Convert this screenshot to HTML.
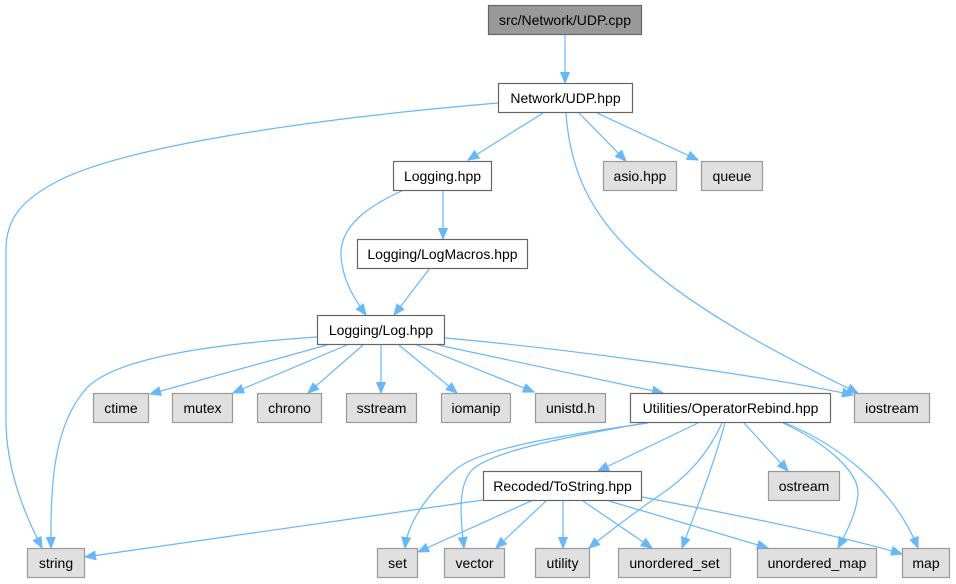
<!DOCTYPE html>
<html><head><meta charset="utf-8"><style>
html,body{margin:0;padding:0;background:#fff;}
svg{display:block;}
text{font-family:"Liberation Sans",Arial,sans-serif;font-size:14px;fill:#000;text-anchor:middle;}
.e{fill:none;stroke:#63b8ff;stroke-width:1.2;}
.w{fill:#fff;stroke:#666;stroke-width:1.2;}
.g{fill:#e0e0e0;stroke:#999;stroke-width:1.2;}
.r{fill:#999;stroke:#666;stroke-width:1.2;}
</style></head><body>
<svg width="956" height="584" viewBox="0 0 956 584" xmlns="http://www.w3.org/2000/svg">
<defs>
<marker id="a" markerUnits="userSpaceOnUse" markerWidth="12" markerHeight="10" refX="11" refY="5" orient="auto">
<path d="M0,0.5 L11,5 L0,9.5 z" fill="#63b8ff" stroke="#63b8ff" stroke-width="1"/>
</marker>
</defs>
<g marker-end="url(#a)">
<path class="e" d="M565,35 L565,83"/>
<path class="e" d="M498,103 C320,118 130,145 60,180 C20,200 6,220 6,250 L6,420 C6,470 25,515 42,548"/>
<path class="e" d="M543,113 L468,160"/>
<path class="e" d="M566,113 C570,170 590,215 640,260 C700,315 800,365 858,393"/>
<path class="e" d="M579,113 L626,161"/>
<path class="e" d="M597,113 L698,160"/>
<path class="e" d="M404,190 C370,205 340,225 341,255 C342,280 355,300 366,315"/>
<path class="e" d="M443,190 L443,239"/>
<path class="e" d="M430,268 L394,315"/>
<path class="e" d="M317,337 C200,345 110,360 85,390 C55,425 50,480 51,548"/>
<path class="e" d="M327,345 L150,394"/>
<path class="e" d="M347,345 L233,393"/>
<path class="e" d="M363,345 L308,393"/>
<path class="e" d="M381,345 L381,393"/>
<path class="e" d="M399,345 L457,393"/>
<path class="e" d="M417,345 L534,392"/>
<path class="e" d="M438,345 L663,393"/>
<path class="e" d="M445,338 C560,348 760,375 853,395"/>
<path class="e" d="M648,423 C560,436 480,448 455,470 C430,492 408,520 405,548"/>
<path class="e" d="M645,423 C560,438 490,452 472,470 C458,485 460,515 464,548"/>
<path class="e" d="M698,423 L598,471"/>
<path class="e" d="M722,423 C710,450 690,475 660,495 C635,512 605,535 589,548"/>
<path class="e" d="M725,423 C715,460 700,500 682,548"/>
<path class="e" d="M744,423 L788,471"/>
<path class="e" d="M783,423 C820,440 860,470 858,495 C856,515 845,535 838,548"/>
<path class="e" d="M785,423 C840,445 895,490 918,548"/>
<path class="e" d="M483,500 L85,557"/>
<path class="e" d="M531,501 L418,552"/>
<path class="e" d="M546,501 L496,548"/>
<path class="e" d="M563,501 L563,548"/>
<path class="e" d="M583,501 L652,548"/>
<path class="e" d="M609,501 L768,548"/>
<path class="e" d="M642,497 C720,512 840,535 902,554"/>
</g>

<rect class="r" x="488.5" y="5.5" width="153" height="29"/><text x="565" y="25">src/Network/UDP.cpp</text>
<rect class="w" x="498.5" y="83.5" width="134" height="29"/><text x="565.5" y="103">Network/UDP.hpp</text>
<rect class="w" x="393.5" y="161.5" width="98" height="29"/><text x="442.5" y="181">Logging.hpp</text>
<rect class="g" x="603.5" y="161.5" width="73" height="29"/><text x="640" y="181">asio.hpp</text>
<rect class="g" x="701.5" y="161.5" width="61" height="29"/><text x="732" y="181">queue</text>
<rect class="w" x="357.5" y="239.5" width="170" height="29"/><text x="442.5" y="259">Logging/LogMacros.hpp</text>
<rect class="w" x="317.5" y="315.5" width="127" height="29"/><text x="381" y="335">Logging/Log.hpp</text>
<rect class="g" x="93.5" y="393.5" width="55" height="29"/><text x="121" y="413">ctime</text>
<rect class="g" x="172.5" y="393.5" width="60" height="29"/><text x="202.5" y="413">mutex</text>
<rect class="g" x="257.5" y="393.5" width="64" height="29"/><text x="289.5" y="413">chrono</text>
<rect class="g" x="346.5" y="393.5" width="70" height="29"/><text x="381.5" y="413">sstream</text>
<rect class="g" x="441.5" y="393.5" width="69" height="29"/><text x="476" y="413">iomanip</text>
<rect class="g" x="535.5" y="393.5" width="70" height="29"/><text x="570.5" y="413">unistd.h</text>
<rect class="w" x="630.5" y="393.5" width="200" height="29"/><text x="730.5" y="413">Utilities/OperatorRebind.hpp</text>
<rect class="g" x="854.5" y="393.5" width="75" height="29"/><text x="892" y="413">iostream</text>
<rect class="w" x="483.5" y="471.5" width="158" height="29"/><text x="562.5" y="491">Recoded/ToString.hpp</text>
<rect class="g" x="768.5" y="471.5" width="71" height="29"/><text x="804" y="491">ostream</text>
<rect class="g" x="27.5" y="548.5" width="57" height="29"/><text x="56" y="568">string</text>
<rect class="g" x="377.5" y="548.5" width="40" height="29"/><text x="397.5" y="568">set</text>
<rect class="g" x="444.5" y="548.5" width="60" height="29"/><text x="474.5" y="568">vector</text>
<rect class="g" x="535.5" y="548.5" width="54" height="29"/><text x="562.5" y="568">utility</text>
<rect class="g" x="618.5" y="548.5" width="112" height="29"/><text x="674.5" y="568">unordered_set</text>
<rect class="g" x="757.5" y="548.5" width="119" height="29"/><text x="817" y="568">unordered_map</text>
<rect class="g" x="902.5" y="548.5" width="47" height="29"/><text x="926" y="568">map</text>
</svg>
</body></html>
